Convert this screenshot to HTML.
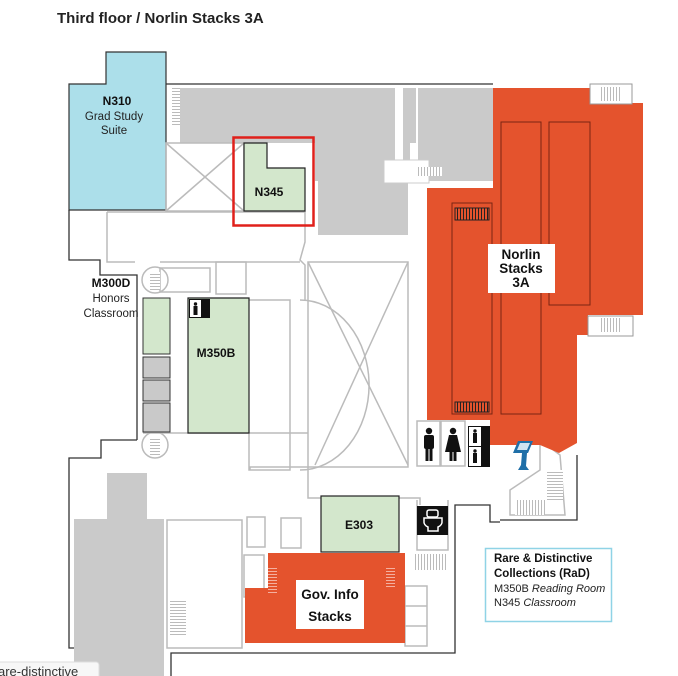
<!DOCTYPE html>
<html><head><meta charset="utf-8"><style>
html,body{margin:0;padding:0;background:#fff;}
svg{display:block;}
text{font-family:"Liberation Sans",sans-serif;}
</style></head><body>
<svg width="678" height="676" viewBox="0 0 678 676" xmlns="http://www.w3.org/2000/svg">
<defs>
<pattern id="st" width="3" height="6" patternUnits="userSpaceOnUse"><rect width="3" height="6" fill="#fff"/><line x1="1.5" y1="0" x2="1.5" y2="6" stroke="#bbb" stroke-width="1"/></pattern>
<pattern id="sth" width="6" height="3" patternUnits="userSpaceOnUse"><rect width="6" height="3" fill="#fff"/><line x1="0" y1="1.5" x2="6" y2="1.5" stroke="#bbb" stroke-width="1"/></pattern>
<pattern id="std" width="3" height="6" patternUnits="userSpaceOnUse"><rect width="3" height="6" fill="#e4532d"/><line x1="1.5" y1="0" x2="1.5" y2="6" stroke="#222" stroke-width="1"/></pattern>
<pattern id="stoh" width="6" height="3" patternUnits="userSpaceOnUse"><rect width="6" height="3" fill="#e4532d"/><line x1="0" y1="1.5" x2="6" y2="1.5" stroke="#f4b0a0" stroke-width="1"/></pattern>
</defs>
<text x="57" y="23" font-size="15" font-weight="bold" fill="#222">Third floor / Norlin Stacks 3A</text>

<!-- outer walls -->
<g fill="none" stroke="#333" stroke-width="1.3">
<polyline points="166,84 493,84"/>
<polyline points="69,210 69,260 100,260 100,275 137,275 137,440"/>
<polyline points="137,440 101,440 101,458 69,458 69,490 69,648 104,648 104,676"/>
<polyline points="171,676 171,653 455,653 455,505 490,505 490,522 500,522"/>
<polyline points="577,455 577,520 500,520"/>
</g>

<!-- gray areas top -->
<g fill="#cacaca">
<rect x="180" y="88" width="215" height="55"/>
<rect x="315" y="143" width="95" height="38"/>
<rect x="318" y="181" width="90" height="54"/>
<rect x="418" y="88" width="75" height="93"/>
<rect x="398" y="88" width="18" height="55"/>
</g>
<rect x="395" y="88" width="8" height="75" fill="#fff"/>
<rect x="384" y="160" width="45" height="23" fill="#fff" stroke="#ccc"/>
<rect x="416" y="167" width="26" height="9" fill="url(#st)"/>
<rect x="172" y="88" width="8" height="38" fill="url(#sth)"/>

<!-- N310 -->
<polygon points="69,84 106,84 106,52 166,52 166,210 69,210" fill="#acdfea" stroke="#333" stroke-width="1.2"/>
<text x="117" y="105" font-size="12" font-weight="bold" text-anchor="middle" fill="#111">N310</text>
<text x="114" y="120" font-size="11.5" text-anchor="middle" fill="#222">Grad Study</text>
<text x="114" y="134" font-size="11.5" text-anchor="middle" fill="#222">Suite</text>

<!-- X room -->
<g stroke="#bbb" stroke-width="1.5" fill="none">
<rect x="166" y="143" width="78" height="68"/>
<line x1="166" y1="143" x2="244" y2="211"/><line x1="244" y1="143" x2="166" y2="211"/>
<!-- corridor outlines -->
<polyline points="107,212 305,212 305,242 300,260 305,265 305,300"/>
<polyline points="107,212 107,262 135,262"/>
<polyline points="160,262 300,262"/>
<rect x="216" y="262" width="30" height="32"/>
<rect x="160" y="268" width="50" height="24"/>
<circle cx="155" cy="280" r="13"/>
<circle cx="155" cy="445" r="13"/>
<polyline points="249,300 290,300 290,470 249,470 249,433"/>
<polyline points="143,433 308,433"/>
<path d="M300,300 A65,80 0 0 1 300,470"/>
<rect x="308" y="262" width="100" height="205"/>
<line x1="308" y1="262" x2="408" y2="465"/><line x1="408" y1="262" x2="315" y2="465"/>
<polyline points="308,467 308,498 420,498 420,505"/>
<polyline points="250,470 250,467 308,467"/>
<rect x="167" y="520" width="75" height="128"/>
<rect x="247" y="517" width="18" height="30"/>
<rect x="281" y="518" width="20" height="30"/>
<rect x="244" y="555" width="20" height="42"/>
<rect x="405" y="586" width="22" height="60"/>
<line x1="405" y1="606" x2="427" y2="606"/><line x1="405" y1="626" x2="427" y2="626"/>
<polyline points="417,500 417,550 448,550 448,500"/>
<polygon points="510,490 540,470 540,440 560,455 565,515 510,515"/>
</g>
<rect x="415" y="554" width="33" height="16" fill="url(#st)"/>
<rect x="170" y="600" width="16" height="35" fill="url(#sth)"/>
<rect x="547" y="470" width="16" height="30" fill="url(#sth)"/>
<rect x="515" y="500" width="30" height="15" fill="url(#st)"/>
<rect x="150" y="272" width="10" height="18" fill="url(#sth)"/>
<rect x="150" y="437" width="10" height="18" fill="url(#sth)"/>

<!-- N345 -->
<polygon points="244,143 267,143 267,168 305,168 305,211 244,211" fill="#d3e7cc" stroke="#222" stroke-width="1.2"/>
<text x="269" y="196" font-size="12" font-weight="bold" text-anchor="middle" fill="#111">N345</text>
<rect x="233.5" y="137.5" width="80" height="88" fill="none" stroke="#e0201b" stroke-width="2.5"/>

<!-- Norlin stacks -->
<polygon points="493,88 590,88 590,103 643,103 643,315 588,315 588,335 577,335 577,443 559,453 540,445 490,445 490,420 427,420 427,188 493,188" fill="#e4532d"/>
<rect x="590" y="84" width="42" height="20" fill="#fff" stroke="#999"/>
<rect x="601" y="87" width="20" height="14" fill="url(#st)"/>
<rect x="588" y="316" width="45" height="20" fill="#fff" stroke="#999"/>
<rect x="601" y="318" width="20" height="14" fill="url(#st)"/>
<g fill="none" stroke="#7a2512" stroke-width="1">
<rect x="501" y="122" width="40" height="292"/>
<rect x="549" y="122" width="41" height="183"/>
<rect x="452" y="203" width="40" height="211"/>
</g>
<rect x="455" y="208" width="34" height="12" fill="url(#std)" stroke="#222"/>
<rect x="455" y="402" width="34" height="10" fill="url(#std)" stroke="#222"/>
<rect x="488" y="244" width="67" height="49" fill="#fff"/>
<text x="521" y="259" font-size="13.5" font-weight="bold" text-anchor="middle" fill="#111">Norlin</text>
<text x="521" y="273" font-size="13.5" font-weight="bold" text-anchor="middle" fill="#111">Stacks</text>
<text x="521" y="287" font-size="13.5" font-weight="bold" text-anchor="middle" fill="#111">3A</text>

<!-- restrooms -->
<rect x="417" y="421" width="23" height="45" fill="#fff" stroke="#bbb" stroke-width="1.5"/>
<rect x="441" y="421" width="24" height="45" fill="#fff" stroke="#bbb" stroke-width="1.5"/>
<g fill="#111">
<circle cx="429" cy="431" r="3.2"/><rect x="424" y="435" width="10" height="14" rx="2"/><rect x="425.5" y="447" width="3" height="14"/><rect x="429.5" y="447" width="3" height="14"/>
<circle cx="453" cy="431" r="3.2"/><polygon points="449,435 457,435 461,452 445,452"/><rect x="449.5" y="450" width="3" height="11"/><rect x="453.5" y="450" width="3" height="11"/>
</g>
<rect x="468" y="426" width="22" height="41" fill="#111"/>
<rect x="469" y="427" width="12" height="19" fill="#fff"/><rect x="469" y="447" width="12" height="19" fill="#fff"/>
<g fill="#111"><circle cx="475" cy="431" r="1.7"/><rect x="473" y="433" width="4" height="10"/><circle cx="475" cy="451" r="1.7"/><rect x="473" y="453" width="4" height="10"/></g>
<!-- kiosk -->
<polygon points="518,441 533,441 528,453 513,453" fill="#1f6fa8"/>
<polygon points="520,443 530,443 527,450 517,450" fill="#cfe3f2"/>
<polygon points="522,453 527,453 526,466 529,470 518,470 521,465" fill="#1f6fa8"/>

<!-- M300D / M350B -->
<text x="111" y="287" font-size="12" font-weight="bold" text-anchor="middle" fill="#111">M300D</text>
<text x="111" y="302" font-size="11.5" text-anchor="middle" fill="#222">Honors</text>
<text x="111" y="317" font-size="11.5" text-anchor="middle" fill="#222">Classroom</text>
<rect x="143" y="298" width="27" height="56" fill="#d3e7cc" stroke="#333"/>
<g fill="#c9c9c9" stroke="#333"><rect x="143" y="357" width="27" height="21"/><rect x="143" y="380" width="27" height="21"/><rect x="143" y="403" width="27" height="29"/></g>
<polygon points="188,298 249,298 249,433 188,433" fill="#d3e7cc" stroke="#222" stroke-width="1.2"/>
<rect x="189" y="299" width="21" height="19" fill="#111"/>
<rect x="190" y="300" width="11" height="17" fill="#fff"/>
<circle cx="195.5" cy="304" r="1.7" fill="#111"/><rect x="193.5" y="306" width="4" height="9" fill="#111"/>
<text x="216" y="357" font-size="12" font-weight="bold" text-anchor="middle" fill="#111">M350B</text>

<!-- lower left gray -->
<polygon points="107,473 147,473 147,519 164,519 164,676 74,676 74,519 107,519" fill="#cacaca"/>

<!-- E303 -->
<rect x="321" y="496" width="78" height="56" fill="#d3e7cc" stroke="#222" stroke-width="1.2"/>
<text x="359" y="529" font-size="12" font-weight="bold" text-anchor="middle" fill="#111">E303</text>
<!-- toilet -->
<rect x="417" y="506" width="31" height="29" fill="#111"/>
<rect x="427" y="510" width="11" height="7" rx="2" fill="none" stroke="#fff" stroke-width="1.5"/>
<path d="M424,518 h18 v3 a8,6 0 0 1 -4,6 v4 h-10 v-4 a8,6 0 0 1 -4,-6 z" fill="none" stroke="#fff" stroke-width="1.5"/>

<!-- Gov info -->
<polygon points="268,553 405,553 405,643 245,643 245,588 268,588" fill="#e4532d"/>
<rect x="268" y="566" width="9" height="27" fill="url(#stoh)"/>
<rect x="386" y="566" width="9" height="22" fill="url(#stoh)"/>
<rect x="296" y="580" width="68" height="49" fill="#fff"/>
<text x="330" y="599" font-size="13.5" font-weight="bold" text-anchor="middle" fill="#111">Gov. Info</text>
<text x="330" y="621" font-size="13.5" font-weight="bold" text-anchor="middle" fill="#111">Stacks</text>

<!-- RaD box -->
<rect x="485.5" y="548.5" width="126" height="73" fill="#fff" stroke="#8fd3e6" stroke-width="1.5"/>
<text x="494" y="562" font-size="11.5" font-weight="bold" fill="#111">Rare &amp; Distinctive</text>
<text x="494" y="577" font-size="11.5" font-weight="bold" fill="#111">Collections (RaD)</text>
<text x="494" y="592" font-size="11" fill="#222">M350B <tspan font-style="italic">Reading Room</tspan></text>
<text x="494" y="606" font-size="11" fill="#222">N345 <tspan font-style="italic">Classroom</tspan></text>

<!-- tooltip -->
<rect x="-5" y="662" width="104" height="20" rx="3" fill="#f7f7f7" stroke="#ddd"/>
<text x="-2" y="676" font-size="13" fill="#333">are-distinctive</text>
</svg>
</body></html>
